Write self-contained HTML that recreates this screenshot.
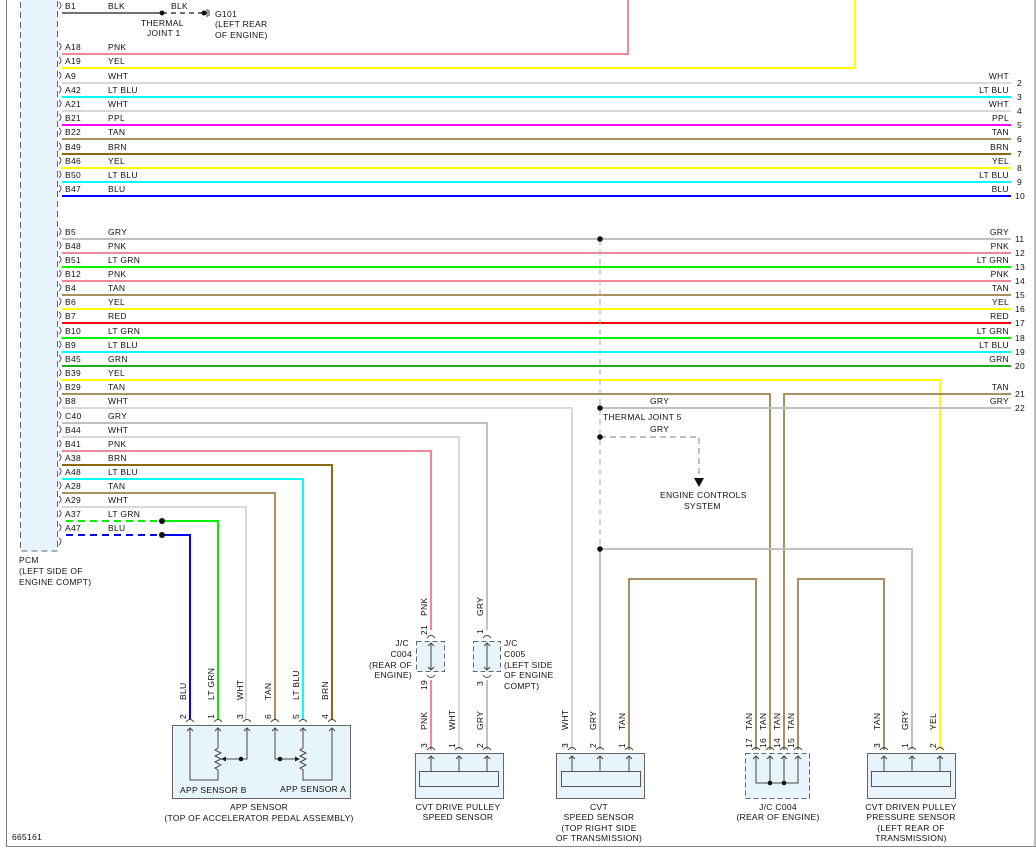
<!DOCTYPE html>
<html><head><meta charset="utf-8"><style>
html,body{margin:0;padding:0;background:#fff;}
svg{display:block;}
text{font-family:"Liberation Sans",sans-serif;font-size:8.5px;fill:#111;letter-spacing:0.3px;}
</style></head><body>
<svg width="1036" height="851" viewBox="0 0 1036 851" xmlns="http://www.w3.org/2000/svg">
<rect width="1036" height="851" fill="#fff"/>
<line x1="6.5" y1="0" x2="6.5" y2="846" stroke="#777" stroke-width="1"/>
<line x1="1035" y1="0" x2="1035" y2="846" stroke="#777" stroke-width="1"/>
<line x1="6" y1="846.5" x2="1036" y2="846.5" stroke="#888" stroke-width="1"/>
<!-- PCM -->
<rect x="20.5" y="-2" width="37" height="553" fill="#e8f4fb" stroke="#666" stroke-dasharray="6,4"/>
<text x="19" y="563">PCM</text><text x="19" y="574">(LEFT SIDE OF</text><text x="19" y="585">ENGINE COMPT)</text>

<g fill="none" stroke-width="2">
<line x1="62" y1="13" x2="162" y2="13" stroke="#444" stroke-width="1.5"/>
<line x1="162" y1="13" x2="204" y2="13" stroke="#444" stroke-width="1.5" stroke-dasharray="5,4"/>
<line x1="62" y1="54" x2="628" y2="54" stroke="#f08898"/><line x1="628" y1="55" x2="628" y2="0" stroke="#f08898"/>
<line x1="62" y1="68" x2="855" y2="68" stroke="#ffff00"/><line x1="855" y1="69" x2="855" y2="0" stroke="#ffff00"/>
<line x1="62" y1="83" x2="1011" y2="83" stroke="#d8d8d8"/>
<line x1="62" y1="97" x2="1011" y2="97" stroke="#00ffff"/>
<line x1="62" y1="111" x2="1011" y2="111" stroke="#d8d8d8"/>
<line x1="62" y1="125" x2="1011" y2="125" stroke="#ff00ff"/>
<line x1="62" y1="139" x2="1011" y2="139" stroke="#a89060"/>
<line x1="62" y1="154" x2="1011" y2="154" stroke="#8b6914"/>
<line x1="62" y1="168" x2="1011" y2="168" stroke="#ffff00"/>
<line x1="62" y1="182" x2="1011" y2="182" stroke="#00ffff"/>
<line x1="62" y1="196" x2="1011" y2="196" stroke="#0000ff"/>
<line x1="62" y1="239" x2="1011" y2="239" stroke="#c0c0c0"/>
<line x1="62" y1="253" x2="1011" y2="253" stroke="#f08898"/>
<line x1="62" y1="267" x2="1011" y2="267" stroke="#00ee00"/>
<line x1="62" y1="281" x2="1011" y2="281" stroke="#f08898"/>
<line x1="62" y1="295" x2="1011" y2="295" stroke="#a89060"/>
<line x1="62" y1="309" x2="1011" y2="309" stroke="#ffff00"/>
<line x1="62" y1="323" x2="1011" y2="323" stroke="#ff0000"/>
<line x1="62" y1="338" x2="1011" y2="338" stroke="#00ee00"/>
<line x1="62" y1="352" x2="1011" y2="352" stroke="#00ffff"/>
<line x1="62" y1="366" x2="1011" y2="366" stroke="#22aa22"/>
<polyline points="62,380 940,380 940,750" stroke="#ffff00"/>
<polyline points="62,394 770,394 770,750" stroke="#a89060"/>
<polyline points="1011,394 784,394 784,750" stroke="#a89060"/>
<polyline points="62,408 572,408 572,750" stroke="#d8d8d8"/>
<line x1="600" y1="408" x2="1011" y2="408" stroke="#c0c0c0"/>
<polyline points="62,423 487,423 487,630" stroke="#c0c0c0"/>
<line x1="487" y1="680" x2="487" y2="750" stroke="#c0c0c0"/>
<polyline points="62,437 459,437 459,750" stroke="#d8d8d8"/>
<polyline points="62,451 431,451 431,630" stroke="#f08898"/>
<line x1="431" y1="680" x2="431" y2="750" stroke="#f08898"/>
<polyline points="62,465 332,465 332,720" stroke="#8b6914"/>
<polyline points="62,479 303,479 303,720" stroke="#00ffff"/>
<polyline points="62,493 275,493 275,720" stroke="#a89060"/>
<polyline points="62,507 246,507 246,720" stroke="#d8d8d8"/>
<line x1="66" y1="521" x2="162" y2="521" stroke="#00ee00" stroke-dasharray="7,5"/>
<polyline points="162,521 218,521 218,720" stroke="#00ee00"/>
<line x1="66" y1="535" x2="162" y2="535" stroke="#0000ff" stroke-dasharray="7,5"/>
<polyline points="162,535 190,535 190,720" stroke="#0000ff"/>
<line x1="600" y1="239" x2="600" y2="549" stroke="#aaa" stroke-width="1" stroke-dasharray="6,4"/>
<polyline points="600,437 699,437 699,476" stroke="#c0c0c0" stroke-dasharray="6,4"/>
<polyline points="912,750 912,549 600,549 600,750" stroke="#c0c0c0"/>
<polyline points="629,750 629,579 756,579 756,750" stroke="#a89060"/>
<polyline points="884,750 884,579 798,579 798,750" stroke="#a89060"/>
</g>
<polygon points="694,478 704,478 699,487" fill="#111"/>
<g fill="#111">
<circle cx="162" cy="13" r="2.5"/><circle cx="204" cy="13" r="2.5"/>
<circle cx="162" cy="521" r="3"/><circle cx="162" cy="535" r="3"/>
<circle cx="600" cy="239" r="2.8"/><circle cx="600" cy="408" r="2.8"/><circle cx="600" cy="437" r="2.8"/><circle cx="600" cy="549" r="2.8"/>
</g>
<line x1="207" y1="9" x2="207" y2="17" stroke="#333"/><line x1="209" y1="10" x2="209" y2="16" stroke="#333"/>
<text x="141" y="26">THERMAL</text><text x="147" y="36">JOINT 1</text>
<text x="171" y="9">BLK</text>
<text x="215" y="17">G101</text><text x="215" y="27">(LEFT REAR</text><text x="215" y="38">OF ENGINE)</text>

<g fill="none" stroke="#555" stroke-width="1">
<path d="M59,2 q4,3 0,7 M59,43 q4,3 0,7 M59,57 q4,3 0,7 M59,72 q4,3 0,7 M59,86 q4,3 0,7 M59,100 q4,3 0,7 M59,114 q4,3 0,7 M59,128 q4,3 0,7 M59,143 q4,3 0,7 M59,157 q4,3 0,7 M59,171 q4,3 0,7 M59,185 q4,3 0,7 M59,228 q4,3 0,7 M59,242 q4,3 0,7 M59,256 q4,3 0,7 M59,270 q4,3 0,7 M59,284 q4,3 0,7 M59,298 q4,3 0,7 M59,312 q4,3 0,7 M59,327 q4,3 0,7 M59,341 q4,3 0,7 M59,355 q4,3 0,7 M59,369 q4,3 0,7 M59,383 q4,3 0,7 M59,397 q4,3 0,7 M59,412 q4,3 0,7 M59,426 q4,3 0,7 M59,440 q4,3 0,7 M59,454 q4,3 0,7 M59,468 q4,3 0,7 M59,482 q4,3 0,7 M59,496 q4,3 0,7 M59,510 q4,3 0,7 M59,524 q4,3 0,7 M59,538 q4,3 0,7"/>
</g>
<g>
<text x="65" y="9">B1</text><text x="108" y="9">BLK</text>
<text x="65" y="50">A18</text><text x="108" y="50">PNK</text>
<text x="65" y="64">A19</text><text x="108" y="64">YEL</text>
<text x="65" y="79">A9</text><text x="108" y="79">WHT</text>
<text x="65" y="93">A42</text><text x="108" y="93">LT BLU</text>
<text x="65" y="107">A21</text><text x="108" y="107">WHT</text>
<text x="65" y="121">B21</text><text x="108" y="121">PPL</text>
<text x="65" y="135">B22</text><text x="108" y="135">TAN</text>
<text x="65" y="150">B49</text><text x="108" y="150">BRN</text>
<text x="65" y="164">B46</text><text x="108" y="164">YEL</text>
<text x="65" y="178">B50</text><text x="108" y="178">LT BLU</text>
<text x="65" y="192">B47</text><text x="108" y="192">BLU</text>
<text x="65" y="235">B5</text><text x="108" y="235">GRY</text>
<text x="65" y="249">B48</text><text x="108" y="249">PNK</text>
<text x="65" y="263">B51</text><text x="108" y="263">LT GRN</text>
<text x="65" y="277">B12</text><text x="108" y="277">PNK</text>
<text x="65" y="291">B4</text><text x="108" y="291">TAN</text>
<text x="65" y="305">B6</text><text x="108" y="305">YEL</text>
<text x="65" y="319">B7</text><text x="108" y="319">RED</text>
<text x="65" y="334">B10</text><text x="108" y="334">LT GRN</text>
<text x="65" y="348">B9</text><text x="108" y="348">LT BLU</text>
<text x="65" y="362">B45</text><text x="108" y="362">GRN</text>
<text x="65" y="376">B39</text><text x="108" y="376">YEL</text>
<text x="65" y="390">B29</text><text x="108" y="390">TAN</text>
<text x="65" y="404">B8</text><text x="108" y="404">WHT</text>
<text x="65" y="419">C40</text><text x="108" y="419">GRY</text>
<text x="65" y="433">B44</text><text x="108" y="433">WHT</text>
<text x="65" y="447">B41</text><text x="108" y="447">PNK</text>
<text x="65" y="461">A38</text><text x="108" y="461">BRN</text>
<text x="65" y="475">A48</text><text x="108" y="475">LT BLU</text>
<text x="65" y="489">A28</text><text x="108" y="489">TAN</text>
<text x="65" y="503">A29</text><text x="108" y="503">WHT</text>
<text x="65" y="517">A37</text><text x="108" y="517">LT GRN</text>
<text x="65" y="531">A47</text><text x="108" y="531">BLU</text>
</g>
<g text-anchor="end">
<text x="1009" y="79">WHT</text><text x="1009" y="93">LT BLU</text><text x="1009" y="107">WHT</text><text x="1009" y="121">PPL</text><text x="1009" y="135">TAN</text><text x="1009" y="150">BRN</text><text x="1009" y="164">YEL</text><text x="1009" y="178">LT BLU</text><text x="1009" y="192">BLU</text>
<text x="1009" y="235">GRY</text><text x="1009" y="249">PNK</text><text x="1009" y="263">LT GRN</text><text x="1009" y="277">PNK</text><text x="1009" y="291">TAN</text><text x="1009" y="305">YEL</text><text x="1009" y="319">RED</text><text x="1009" y="334">LT GRN</text><text x="1009" y="348">LT BLU</text><text x="1009" y="362">GRN</text><text x="1009" y="390">TAN</text><text x="1009" y="404">GRY</text>
</g>
<g>
<text x="1017" y="86">2</text><text x="1017" y="100">3</text><text x="1017" y="114">4</text><text x="1017" y="128">5</text><text x="1017" y="142">6</text><text x="1017" y="157">7</text><text x="1017" y="171">8</text><text x="1017" y="185">9</text><text x="1015" y="199">10</text>
<text x="1015" y="242">11</text><text x="1015" y="256">12</text><text x="1015" y="270">13</text><text x="1015" y="284">14</text><text x="1015" y="298">15</text><text x="1015" y="312">16</text><text x="1015" y="326">17</text><text x="1015" y="341">18</text><text x="1015" y="355">19</text><text x="1015" y="369">20</text><text x="1015" y="397">21</text><text x="1015" y="411">22</text>
<text x="650" y="404">GRY</text><text x="603" y="420">THERMAL JOINT 5</text><text x="650" y="432">GRY</text>
<text x="660" y="498">ENGINE CONTROLS</text><text x="684" y="509">SYSTEM</text>
</g>

<rect x="416.5" y="641.5" width="28" height="30" fill="#e8f4fb" stroke="#666" stroke-dasharray="5,3"/>
<rect x="473.5" y="641.5" width="27" height="30" fill="#e8f4fb" stroke="#666" stroke-dasharray="5,3"/>
<g stroke="#444" stroke-width="1" fill="none">
<line x1="431" y1="643" x2="431" y2="670"/><path d="M428,646 l3,-3 l3,3 M428,667 l3,3 l3,-3"/>
<line x1="487" y1="643" x2="487" y2="670"/><path d="M484,646 l3,-3 l3,3 M484,667 l3,3 l3,-3"/>
<path d="M427,638 q4,-5 8,0 M427,675 q4,5 8,0 M483,638 q4,-5 8,0 M483,675 q4,5 8,0"/>
</g>
<g text-anchor="end"><text x="409" y="646">J/C</text><text x="412" y="657">C004</text><text x="412" y="668">(REAR OF</text><text x="412" y="678">ENGINE)</text></g>
<text x="504" y="646">J/C</text><text x="504" y="657">C005</text><text x="504" y="668">(LEFT SIDE</text><text x="504" y="678">OF ENGINE</text><text x="504" y="689">COMPT)</text>

<rect x="172.5" y="725.5" width="178" height="73" fill="#e8f4fb" stroke="#666"/>
<rect x="415.5" y="753.5" width="88" height="45" fill="#e8f4fb" stroke="#666"/>
<rect x="419.5" y="771.5" width="79" height="15" fill="#e8f4fb" stroke="#555"/>
<rect x="556.5" y="753.5" width="88" height="45" fill="#e8f4fb" stroke="#666"/>
<rect x="561.5" y="771.5" width="79" height="15" fill="#e8f4fb" stroke="#555"/>
<rect x="745.5" y="753.5" width="64" height="45" fill="#e8f4fb" stroke="#666" stroke-dasharray="5,3"/>
<rect x="867.5" y="753.5" width="88" height="45" fill="#e8f4fb" stroke="#666"/>
<rect x="871.5" y="771.5" width="79" height="15" fill="#e8f4fb" stroke="#555"/>
<g stroke="#444" stroke-width="1" fill="none">
<polyline points="190,728 190,780 218,780 218,770"/>
<polyline points="218,728 218,748 215,750 221,753 215,756 221,759 215,762 221,765 215,768 218,770"/>
<polyline points="247,728 247,759 222,759"/>
<polyline points="275,728 275,759 299,759"/>
<polyline points="303,728 303,748 300,750 306,753 300,756 306,759 300,762 306,765 300,768 303,770 303,780 332,780 332,728"/>
<path d="M187,731 l3,-3 l3,3 M215,731 l3,-3 l3,3 M244,731 l3,-3 l3,3 M272,731 l3,-3 l3,3 M300,731 l3,-3 l3,3 M329,731 l3,-3 l3,3"/>
<path d="M186,722 q4,-5 8,0 M214,722 q4,-5 8,0 M243,722 q4,-5 8,0 M271,722 q4,-5 8,0 M299,722 q4,-5 8,0 M328,722 q4,-5 8,0"/>
<path d="M431,756 v15 M459,756 v15 M487,756 v15 M428,759 l3,-3 l3,3 M456,759 l3,-3 l3,3 M484,759 l3,-3 l3,3"/>
<path d="M572,756 v15 M600,756 v15 M629,756 v15 M569,759 l3,-3 l3,3 M597,759 l3,-3 l3,3 M626,759 l3,-3 l3,3"/>
<path d="M884,756 v15 M912,756 v15 M940,756 v15 M881,759 l3,-3 l3,3 M909,759 l3,-3 l3,3 M937,759 l3,-3 l3,3"/>
<path d="M756,756 v27 h42 v-27 M770,756 v27 M784,756 v27 M753,759 l3,-3 l3,3 M767,759 l3,-3 l3,3 M781,759 l3,-3 l3,3 M795,759 l3,-3 l3,3"/>
<path d="M427,750 q4,-5 8,0 M455,750 q4,-5 8,0 M483,750 q4,-5 8,0 M568,750 q4,-5 8,0 M596,750 q4,-5 8,0 M625,750 q4,-5 8,0 M752,750 q4,-5 8,0 M766,750 q4,-5 8,0 M780,750 q4,-5 8,0 M794,750 q4,-5 8,0 M880,750 q4,-5 8,0 M908,750 q4,-5 8,0 M936,750 q4,-5 8,0"/>
</g>
<polygon points="221,759 226,756.5 226,761.5" fill="#222"/><polygon points="300,759 295,756.5 295,761.5" fill="#222"/>
<circle cx="241" cy="759" r="2.3" fill="#111"/><circle cx="280" cy="759" r="2.3" fill="#111"/>
<circle cx="770" cy="783" r="2.3" fill="#111"/><circle cx="784" cy="783" r="2.3" fill="#111"/>
<text x="180" y="793">APP SENSOR B</text><text x="280" y="792">APP SENSOR A</text>
<g text-anchor="middle">
<text x="259" y="810">APP SENSOR</text><text x="259" y="821">(TOP OF ACCELERATOR PEDAL ASSEMBLY)</text>
<text x="458" y="810">CVT DRIVE PULLEY</text><text x="458" y="820">SPEED SENSOR</text>
<text x="599" y="810">CVT</text><text x="599" y="820">SPEED SENSOR</text><text x="599" y="831">(TOP RIGHT SIDE</text><text x="599" y="841">OF TRANSMISSION)</text>
<text x="778" y="810">J/C C004</text><text x="778" y="820">(REAR OF ENGINE)</text>
<text x="911" y="810">CVT DRIVEN PULLEY</text><text x="911" y="820">PRESSURE SENSOR</text><text x="911" y="831">(LEFT REAR OF</text><text x="911" y="841">TRANSMISSION)</text>
</g>
<text x="12" y="840">665161</text>

<g>
<text transform="translate(186,700) rotate(-90)">BLU</text>
<text transform="translate(214,700) rotate(-90)">LT GRN</text>
<text transform="translate(243,700) rotate(-90)">WHT</text>
<text transform="translate(271,700) rotate(-90)">TAN</text>
<text transform="translate(299,700) rotate(-90)">LT BLU</text>
<text transform="translate(328,700) rotate(-90)">BRN</text>
<text transform="translate(186,719) rotate(-90)">2</text>
<text transform="translate(214,719) rotate(-90)">1</text>
<text transform="translate(243,719) rotate(-90)">3</text>
<text transform="translate(271,719) rotate(-90)">6</text>
<text transform="translate(299,719) rotate(-90)">5</text>
<text transform="translate(328,719) rotate(-90)">4</text>
<text transform="translate(427,616) rotate(-90)">PNK</text>
<text transform="translate(427,635) rotate(-90)">21</text>
<text transform="translate(427,690) rotate(-90)">19</text>
<text transform="translate(483,616) rotate(-90)">GRY</text>
<text transform="translate(483,634) rotate(-90)">1</text>
<text transform="translate(483,686) rotate(-90)">3</text>
<text transform="translate(427,730) rotate(-90)">PNK</text>
<text transform="translate(455,730) rotate(-90)">WHT</text>
<text transform="translate(483,730) rotate(-90)">GRY</text>
<text transform="translate(427,748) rotate(-90)">3</text>
<text transform="translate(455,748) rotate(-90)">1</text>
<text transform="translate(483,748) rotate(-90)">2</text>
<text transform="translate(568,730) rotate(-90)">WHT</text>
<text transform="translate(596,730) rotate(-90)">GRY</text>
<text transform="translate(625,730) rotate(-90)">TAN</text>
<text transform="translate(568,748) rotate(-90)">3</text>
<text transform="translate(596,748) rotate(-90)">2</text>
<text transform="translate(625,748) rotate(-90)">1</text>
<text transform="translate(752,730) rotate(-90)">TAN</text>
<text transform="translate(766,730) rotate(-90)">TAN</text>
<text transform="translate(780,730) rotate(-90)">TAN</text>
<text transform="translate(794,730) rotate(-90)">TAN</text>
<text transform="translate(752,748) rotate(-90)">17</text>
<text transform="translate(766,748) rotate(-90)">16</text>
<text transform="translate(780,748) rotate(-90)">14</text>
<text transform="translate(794,748) rotate(-90)">15</text>
<text transform="translate(880,730) rotate(-90)">TAN</text>
<text transform="translate(908,730) rotate(-90)">GRY</text>
<text transform="translate(936,730) rotate(-90)">YEL</text>
<text transform="translate(880,748) rotate(-90)">3</text>
<text transform="translate(908,748) rotate(-90)">1</text>
<text transform="translate(936,748) rotate(-90)">2</text>
</g>
</svg>
</body></html>
